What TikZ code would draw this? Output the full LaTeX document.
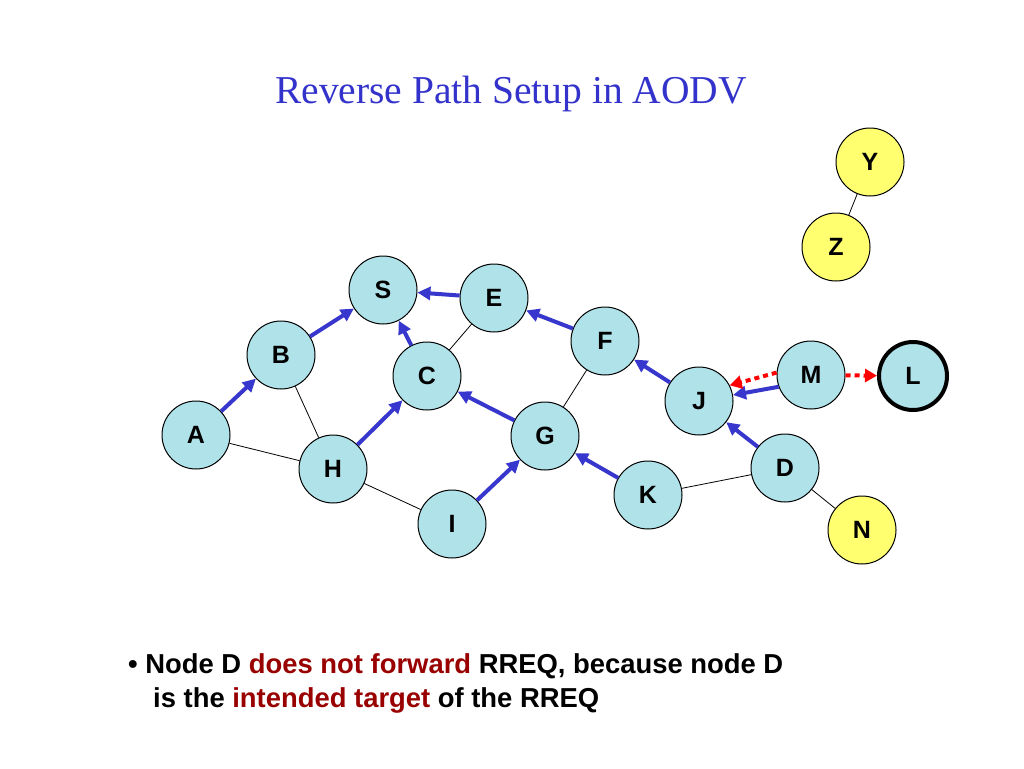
\documentclass[tikz,border=0pt]{standalone}
\usepackage{fontspec}
\setmainfont{Liberation Serif}
\setsansfont{Liberation Sans}
\usetikzlibrary{arrows.meta}

\definecolor{blutitolo}{RGB}{51,51,204}
\definecolor{bluarco}{RGB}{55,55,205}
\definecolor{azzurro}{RGB}{176,226,233}
\definecolor{giallo}{RGB}{255,255,112}
\definecolor{rossoscuro}{RGB}{153,0,0}

\tikzset{
  nodo/.style={circle, draw=black, line width=1pt, fill=azzurro, minimum size=68pt, inner sep=0pt,
    font=\sffamily\bfseries\fontsize{25}{25}\selectfont},
  nodogiallo/.style={nodo, fill=giallo},
  inverso/.style={line width=4pt, bluarco, -{Triangle[length=13pt,width=13pt]}},
  risposta/.style={line width=4pt, red, dash pattern=on 5pt off 4pt, -{Triangle[length=12pt,width=13pt]}},
  link/.style={line width=0.8pt, black}
}

\begin{document}
\begin{tikzpicture}[x=1pt,y=-1pt]
        \useasboundingbox[fill=white] (0,0) rectangle (1024,768);

        % Titolo
        \node[text=blutitolo, font=\fontsize{39.5}{39.5}\selectfont, anchor=base, inner sep=0pt] (titolo) at (511,103) {Reverse Path Setup in AODV};

        % Disegna i nodi
        \node[nodo] (S) at (383,290) {S};
        \node[nodo] (E) at (494,298) {E};
        \node[nodo] (B) at (281,355) {B};
        \node[nodo] (C) at (427,376) {C};
        \node[nodo] (F) at (605,341) {F};
        \node[nodo] (J) at (699,401) {J};
        \node[nodo] (M) at (811,375) {M};
        \node[nodo, line width=4pt] (L) at (913,376) {L};
        \node[nodo] (A) at (196,435) {A};
        \node[nodo] (H) at (333,469) {H};
        \node[nodo] (G) at (545,436) {G};
        \node[nodo] (I) at (452,524) {I};
        \node[nodo] (K) at (648,495) {K};
        \node[nodo] (D) at (785,468) {D};
        \node[nodogiallo] (N) at (862,530) {N};
        \node[nodogiallo] (Y) at (870,162) {Y};
        \node[nodogiallo] (Z) at (836,247) {Z};

        % Collegamenti
        \draw[link] (B) -- (H);
        \draw[link] (A) -- (H);
        \draw[link] (H) -- (I);
        \draw[link] (C) -- (E);
        \draw[link] (F) -- (G);
        \draw[link] (K) -- (D);
        \draw[link] (D) -- (N);
        \draw[link] (Y) -- (Z);

        % Percorso inverso
        \draw[inverso] (A) -- (B);
        \draw[inverso] (B) -- (S);
        \draw[inverso] (E) -- (S);
        \draw[inverso] (C) -- (S);
        \draw[inverso] (H) -- (C);
        \draw[inverso] (G) -- (C);
        \draw[inverso] (F) -- (E);
        \draw[inverso] (J) -- (F);
        \draw[inverso] (I) -- (G);
        \draw[inverso] (K) -- (G);
        \draw[inverso] (M.200) -- (J.10);
        \draw[inverso] (D) -- (J);

        % Frecce rosse
        \draw[risposta] (M.176) -- (J.27);
        \draw[risposta] (M) -- (L);

        % Testo in basso
        \node[anchor=base west, align=left, inner sep=0pt, font=\sffamily\bfseries\fontsize{27.4}{34}\selectfont] (nota) at (128,707)
          {\textbullet\ Node D \textcolor{rossoscuro}{does not forward} RREQ, because node D\\
           \hspace*{25pt}is the \textcolor{rossoscuro}{intended target} of the RREQ};
\end{tikzpicture}
\end{document}
